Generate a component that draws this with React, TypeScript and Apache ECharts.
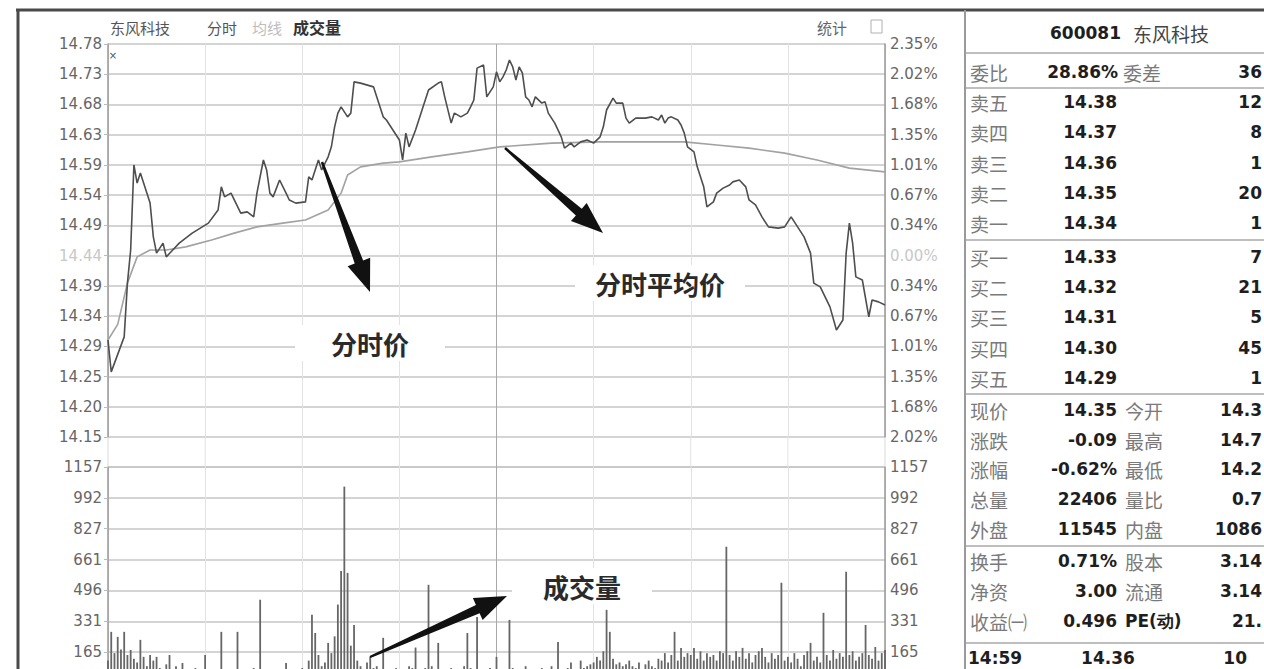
import React, { useEffect, useRef } from 'react';
import * as echarts from 'echarts';

// ---------- data ----------
const BASE = 14.44; // previous close
const STEP = 0.04837; // price per grid row (0.335%)
const VOL_MAX = 1157;

const priceTicks = ['14.15', '14.20', '14.25', '14.29', '14.34', '14.39', '14.44', '14.49', '14.54', '14.59', '14.63', '14.68', '14.73', '14.78'];
const pctTicks = ['2.02%', '1.68%', '1.35%', '1.01%', '0.67%', '0.34%', '0.00%', '0.34%', '0.67%', '1.01%', '1.35%', '1.68%', '2.02%', '2.35%'];
const volTicks = ['0', '165', '331', '496', '661', '827', '992', '1157'];

const priceMinutes = [0, 1, 5, 6, 7, 8, 9, 10, 11, 13, 14, 15, 17, 18, 20, 22, 26, 31, 34, 35, 36, 38, 41, 43, 45, 46, 48, 49, 50, 51, 53, 55, 56, 58, 61, 62, 63, 65, 66, 68, 69, 70, 71, 72, 74, 75, 76, 78, 82, 83, 85, 86, 88, 90, 91, 92, 93, 95, 97, 99, 102, 103, 104, 106, 107, 109, 111, 112, 113, 114, 116, 117, 119, 120, 121, 122, 123, 124, 125, 126, 127, 128, 129, 130, 131, 132, 134, 135, 136, 138, 140, 141, 143, 144, 146, 148, 150, 152, 153, 154, 156, 157, 159, 160, 161, 163, 166, 168, 170, 171, 172, 173, 174, 176, 177, 178, 179, 181, 182, 184, 185, 187, 188, 190, 192, 193, 195, 197, 198, 200, 202, 204, 207, 209, 211, 213, 215, 217, 218, 220, 223, 225, 227, 228, 229, 230, 231, 233, 235, 236, 238, 240];
const priceValues = [14.305, 14.254, 14.31, 14.396, 14.449, 14.585, 14.556, 14.572, 14.556, 14.524, 14.47, 14.444, 14.46, 14.438, 14.449, 14.46, 14.476, 14.492, 14.513, 14.55, 14.534, 14.54, 14.508, 14.51, 14.502, 14.54, 14.593, 14.577, 14.54, 14.534, 14.561, 14.54, 14.529, 14.524, 14.526, 14.566, 14.561, 14.593, 14.577, 14.598, 14.614, 14.646, 14.668, 14.678, 14.662, 14.668, 14.718, 14.716, 14.71, 14.694, 14.662, 14.657, 14.641, 14.625, 14.593, 14.636, 14.614, 14.641, 14.673, 14.705, 14.716, 14.718, 14.694, 14.652, 14.668, 14.662, 14.668, 14.678, 14.689, 14.74, 14.745, 14.694, 14.71, 14.734, 14.718, 14.726, 14.737, 14.753, 14.742, 14.721, 14.742, 14.732, 14.694, 14.689, 14.678, 14.694, 14.684, 14.686, 14.668, 14.652, 14.63, 14.612, 14.62, 14.614, 14.622, 14.625, 14.62, 14.63, 14.646, 14.673, 14.692, 14.684, 14.684, 14.66, 14.652, 14.66, 14.66, 14.662, 14.657, 14.665, 14.652, 14.66, 14.662, 14.657, 14.649, 14.636, 14.614, 14.606, 14.582, 14.55, 14.518, 14.526, 14.54, 14.548, 14.553, 14.558, 14.561, 14.55, 14.529, 14.521, 14.502, 14.486, 14.484, 14.486, 14.502, 14.486, 14.47, 14.444, 14.396, 14.39, 14.358, 14.321, 14.337, 14.444, 14.492, 14.46, 14.406, 14.401, 14.342, 14.369, 14.366, 14.361];

const avgMinutes = [0, 3, 6, 9, 13, 18, 24, 32, 39, 46, 54, 61, 68, 72, 74, 78, 85, 90, 100, 111, 121, 137, 152, 178, 188, 198, 209, 219, 229, 240];
const avgValues = [14.305, 14.33, 14.396, 14.438, 14.449, 14.449, 14.454, 14.465, 14.476, 14.486, 14.492, 14.497, 14.513, 14.54, 14.569, 14.582, 14.588, 14.59, 14.598, 14.606, 14.614, 14.62, 14.622, 14.622, 14.617, 14.612, 14.604, 14.593, 14.58, 14.574];

const volumes = [
  120, 274, 160, 247, 180, 274, 150, 177, 130, 110,
  231, 140, 90, 150, 120, 140, 80, 70, 100, 150,
  60, 90, 50, 107, 70, 40, 60, 80, 50, 60,
  150, 60, 40, 70, 50, 274, 60, 40, 50, 60,
  274, 70, 50, 40, 60, 80, 50, 446, 60, 40,
  50, 70, 40, 60, 50, 107, 60, 40, 50, 70,
  80, 60, 120, 365, 268, 150, 90, 110, 215, 160,
  250, 420, 600, 1052, 590, 200, 311, 120, 90, 70,
  110, 140, 80, 90, 60, 242, 70, 50, 60, 80,
  60, 50, 70, 90, 80, 190, 70, 60, 80, 526,
  90, 70, 215, 60, 70, 50, 80, 60, 50, 70,
  90, 268, 80, 60, 354, 70, 50, 60, 80, 60,
  140, 60, 50, 70, 338, 80, 60, 50, 70, 90,
  60, 50, 70, 60, 80, 50, 60, 90, 70, 220,
  60, 50, 80, 110, 70, 60, 120, 80, 90, 100,
  110, 140, 120, 170, 392, 274, 130, 100, 110, 90,
  100, 120, 90, 80, 110, 70, 100, 120, 90, 80,
  130, 120, 160, 110, 150, 274, 120, 188, 140, 160,
  150, 188, 130, 170, 120, 160, 140, 150, 120, 170,
  160, 730, 150, 120, 170, 140, 188, 130, 160, 110,
  150, 170, 188, 140, 110, 160, 130, 150, 537, 120,
  140, 110, 160, 130, 90, 150, 170, 215, 120, 140,
  110, 376, 150, 120, 177, 130, 160, 140, 596, 150,
  170, 120, 140, 160, 311, 150, 130, 193, 120, 160,
  177,
];

// right-hand quote panel
const titleCode = '600081';
const titleName = '东风科技';
const ratioRow = ['委比', '28.86%', '委差', '36'];
const bookLabels = ['卖五', '卖四', '卖三', '卖二', '卖一', '买一', '买二', '买三', '买四', '买五'];
const bookPrices = ['14.38', '14.37', '14.36', '14.35', '14.34', '14.33', '14.32', '14.31', '14.30', '14.29'];
const bookVols = ['12', '8', '1', '20', '1', '7', '21', '5', '45', '1'];
const infoLabelsL = ['现价', '涨跌', '涨幅', '总量', '外盘', '换手', '净资', '收益㈠'];
const infoValuesL = ['14.35', '-0.09', '-0.62%', '22406', '11545', '0.71%', '3.00', '0.496'];
const infoLabelsR = ['今开', '最高', '最低', '量比', '内盘', '股本', '流通', 'PE(动)'];
const infoValuesR = ['14.3', '14.7', '14.2', '0.7', '1086', '3.14', '3.14', '21.'];
const tickRow = ['14:59', '14.36', '10'];

const headerName = '东风科技';
const headerTabs = ['分时', '均线', '成交量'];

// ---------- helpers ----------
const CJK = '"Noto Sans CJK SC"';
const txt = (text: string, x: number, y: number, font: string, fill: string, align = 'left') => ({
  type: 'text',
  z: 100,
  style: { text, x, y, font, fill, textAlign: align, textVerticalAlign: 'middle' },
});
const hline = (x1: number, x2: number, y: number, stroke: string, w: number) => ({
  type: 'line',
  z: 90,
  shape: { x1, y1: y, x2, y2: y },
  style: { stroke, lineWidth: w },
});
const vline = (x: number, y1: number, y2: number, stroke: string, w: number) => ({
  type: 'line',
  z: 90,
  shape: { x1: x, y1, x2: x, y2 },
  style: { stroke, lineWidth: w },
});
const arrow = (x1: number, y1: number, x2: number, y2: number) => {
  const dx = x2 - x1;
  const dy = y2 - y1;
  const L = Math.hypot(dx, dy);
  const ux = dx / L;
  const uy = dy / L;
  const px = -uy;
  const py = ux;
  const headLen = 32;
  const bx = x2 - ux * headLen;
  const by = y2 - uy * headLen;
  const pts = [
    [x1 + px * 1.2, y1 + py * 1.2],
    [bx + px * 4.5, by + py * 4.5],
    [bx + px * 12, by + py * 12],
    [x2, y2],
    [bx - px * 12, by - py * 12],
    [bx - px * 4.5, by - py * 4.5],
    [x1 - px * 1.2, y1 - py * 1.2],
  ];
  return { type: 'polygon', z: 110, shape: { points: pts }, style: { fill: '#111' } };
};
const annot = (text: string, cx: number, cy: number, w: number) => [
  { type: 'rect', z: 95, shape: { x: cx - w / 2, y: cy - 18, width: w, height: 36 }, style: { fill: '#fff' } },
  txt(text, cx, cy, `bold 26px ${CJK}`, '#2a2a2a', 'center'),
];

function buildOption() {
  const L = 108;
  const W = 777;
  const vColors = ['#d8d8d8', '#e2e2e2', '#e2e2e2', '#e2e2e2', '#a8a8a8', '#e2e2e2', '#e2e2e2', '#e2e2e2', '#d8d8d8'];

  const graphics: any[] = [];
  // frame
  graphics.push(hline(16, 1264, 10, '#4a4a4a', 3));
  graphics.push(vline(18, 9, 669, '#4a4a4a', 3));
  graphics.push(vline(965, 10, 669, '#9a9a9a', 2));
  // vertical grid lines through gap between panels
  for (let i = 0; i <= 8; i++) {
    graphics.push(vline(L + (i * W) / 8, 437, 467, vColors[i], 1));
  }
  // header
  graphics.push(txt(headerName, 110, 27, `15px ${CJK}`, '#555'));
  graphics.push(txt(headerTabs[0], 207, 27, `15px ${CJK}`, '#555'));
  graphics.push(txt(headerTabs[1], 252, 27, `15px ${CJK}`, '#bdbdbd'));
  graphics.push(txt(headerTabs[2], 293, 27, `bold 16px ${CJK}`, '#333'));
  graphics.push(txt('统计', 817, 27, `15px ${CJK}`, '#666'));
  graphics.push({ type: 'rect', z: 100, shape: { x: 871, y: 20, width: 11, height: 13 }, style: { fill: 'none', stroke: '#b0b0b0', lineWidth: 1 } });
  graphics.push(txt('×', 113, 55, '10px "DejaVu Sans"', '#555', 'center'));

  // right panel
  const lab = `19px ${CJK}`;
  const val = 'bold 17px "DejaVu Sans"';
  const labC = '#7a7a7a';
  const valC = '#1e1e1e';
  graphics.push(txt(titleCode, 1050, 33, val, valC));
  graphics.push(txt(titleName, 1133, 33, `19px ${CJK}`, '#444'));
  [53, 88, 240, 394, 546, 643].forEach((y) => graphics.push(hline(966, 1264, y, '#a8a8a8', 1.5)));
  graphics.push(txt(ratioRow[0], 970, 72, lab, labC));
  graphics.push(txt(ratioRow[1], 1118, 72, val, valC, 'right'));
  graphics.push(txt(ratioRow[2], 1123, 72, lab, labC));
  graphics.push(txt(ratioRow[3], 1262, 72, val, valC, 'right'));
  const bookY = [102, 132, 163, 193, 223, 257, 287, 317, 348, 378];
  bookLabels.forEach((l, i) => {
    graphics.push(txt(l, 970, bookY[i], lab, labC));
    graphics.push(txt(bookPrices[i], 1117, bookY[i], val, valC, 'right'));
    graphics.push(txt(bookVols[i], 1262, bookY[i], val, valC, 'right'));
  });
  const infoY = [410, 440, 469, 499, 529, 561, 591, 621];
  infoLabelsL.forEach((l, i) => {
    graphics.push(txt(l, 970, infoY[i], lab, labC));
    graphics.push(txt(infoValuesL[i], 1117, infoY[i], val, valC, 'right'));
    graphics.push(txt(infoLabelsR[i], 1125, infoY[i], i === 7 ? val : lab, i === 7 ? valC : labC));
    graphics.push(txt(infoValuesR[i], 1262, infoY[i], val, valC, 'right'));
  });
  graphics.push(txt(tickRow[0], 968, 658, val, valC));
  graphics.push(txt(tickRow[1], 1108, 658, val, valC, 'center'));
  graphics.push(txt(tickRow[2], 1247, 658, val, valC, 'right'));

  // annotations
  graphics.push(...annot('分时价', 370, 343, 150));
  graphics.push(...annot('分时平均价', 660, 283, 170));
  graphics.push(...annot('成交量', 582, 586, 140));
  graphics.push(arrow(322, 162, 370, 292));
  graphics.push(arrow(505, 148, 603, 233));
  graphics.push(arrow(370, 657, 507, 596));

  const axisFont = { fontSize: 15, fontFamily: 'DejaVu Sans' };
  const volInt = VOL_MAX / 7;

  return {
    animation: false,
    backgroundColor: '#fff',
    grid: [
      { left: L, top: 44, width: W, height: 393 },
      { left: L, top: 467, width: W, height: 216 },
    ],
    xAxis: [0, 1].map((g) => ({
      type: 'value',
      gridIndex: g,
      min: 0,
      max: 240,
      interval: 30,
      axisLine: { show: false },
      axisTick: { show: false },
      axisLabel: { show: false },
      splitLine: { show: true, lineStyle: { color: vColors, width: 1 } },
    })),
    yAxis: [
      {
        type: 'value',
        gridIndex: 0,
        position: 'left',
        min: -6,
        max: 7,
        interval: 1,
        axisLine: { show: true, lineStyle: { color: '#999', width: 1.5 } },
        axisTick: { show: true, length: 4, lineStyle: { color: '#bbb' } },
        axisLabel: {
          ...axisFont,
          margin: 6,
          formatter: (v: number) => priceTicks[Math.round(v) + 6],
          color: (v: number) => (Math.round(Number(v)) === 0 ? '#c8c8c8' : '#666'),
        },
        splitLine: { show: true, lineStyle: { color: '#c6c6c6', width: 1.5 } },
      },
      {
        type: 'value',
        gridIndex: 0,
        position: 'right',
        min: -6,
        max: 7,
        interval: 1,
        axisLine: { show: true, lineStyle: { color: '#999', width: 1.5 } },
        axisTick: { show: false },
        axisLabel: {
          ...axisFont,
          margin: 5,
          formatter: (v: number) => pctTicks[Math.round(v) + 6],
          color: (v: number) => (Math.round(Number(v)) === 0 ? '#c8c8c8' : '#666'),
        },
        splitLine: { show: false },
      },
      {
        type: 'value',
        gridIndex: 1,
        position: 'left',
        min: 0,
        max: VOL_MAX,
        interval: volInt,
        axisLine: { show: true, lineStyle: { color: '#999', width: 1.5 } },
        axisTick: { show: true, length: 4, lineStyle: { color: '#bbb' } },
        axisLabel: {
          ...axisFont,
          margin: 6,
          color: '#666',
          showMinLabel: false,
          formatter: (v: number) => volTicks[Math.round(v / volInt)],
        },
        splitLine: { show: true, lineStyle: { color: '#c6c6c6', width: 1.5 } },
      },
      {
        type: 'value',
        gridIndex: 1,
        position: 'right',
        min: 0,
        max: VOL_MAX,
        interval: volInt,
        axisLine: { show: true, lineStyle: { color: '#999', width: 1.5 } },
        axisTick: { show: false },
        axisLabel: {
          ...axisFont,
          margin: 5,
          color: '#666',
          showMinLabel: false,
          formatter: (v: number) => volTicks[Math.round(v / volInt)],
        },
        splitLine: { show: false },
      },
    ],
    series: [
      {
        name: '分时平均价',
        type: 'line',
        xAxisIndex: 0,
        yAxisIndex: 0,
        showSymbol: false,
        lineStyle: { color: '#a2a2a2', width: 1.6 },
        data: avgMinutes.map((m, i) => [m, (avgValues[i] - BASE) / STEP]),
        z: 3,
      },
      {
        name: '分时价',
        type: 'line',
        xAxisIndex: 0,
        yAxisIndex: 0,
        showSymbol: false,
        lineStyle: { color: '#4e4e4e', width: 1.6 },
        data: priceMinutes.map((m, i) => [m, (priceValues[i] - BASE) / STEP]),
        z: 4,
      },
      {
        name: '成交量',
        type: 'bar',
        xAxisIndex: 1,
        yAxisIndex: 2,
        barWidth: 1.8,
        itemStyle: { color: '#666' },
        data: volumes.map((v, i) => [i, v]),
      },
    ],
    graphic: graphics,
  };
}

export default function App() {
  const ref = useRef<HTMLDivElement>(null);
  useEffect(() => {
    const chart = echarts.init(ref.current!, null, { renderer: 'svg' });
    chart.setOption(buildOption() as any);
    return () => chart.dispose();
  }, []);
  return (
    <div
      ref={ref}
      style={{ position: 'fixed', left: 0, top: 0, width: 1264, height: 700, background: '#fff' }}
    />
  );
}
